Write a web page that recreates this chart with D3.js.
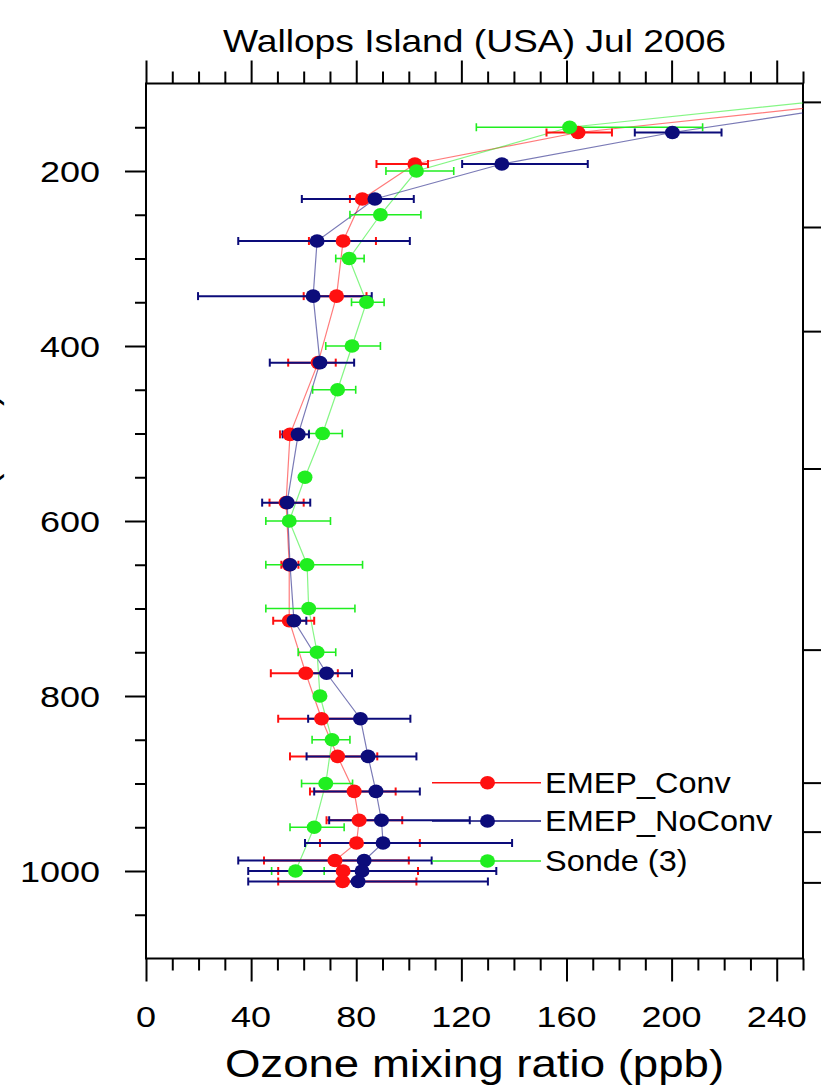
<!DOCTYPE html>
<html>
<head>
<meta charset="utf-8">
<script src="https://cdn.jsdelivr.net/npm/d3@7"></script>
<style>
  body { margin: 0; background: #fff; }
  text { font-family: "Liberation Sans", Arial, Helvetica, sans-serif; fill: #000; }
</style>
</head>
<body>
<script>
"use strict"

// sonde (observed) profile, every 50 hPa
var sondeP  = [100, 150, 200, 250, 300, 350, 400, 450, 500, 550, 600, 650, 700, 750, 800, 850, 900, 950, 1000];
var sondeO3 = [320, 161.2, 102.9, 89.2, 77.3, 83.9, 78.4, 72.9, 67.2, 60.5, 54.5, 61.3, 61.9, 65.1, 66.2, 70.8, 68.4, 64.0, 56.9];
var sondeLo = [320, 125.7, 91.3, 77.6, 72.2, 78.2, 68.4, 63.4, 62.1, 58.5, 45.6, 45.6, 45.6, 57.9, 64.5, 63.2, 59.2, 54.8, 47.8];
var sondeHi = [320, 211.8, 117.1, 104.6, 83.0, 90.6, 89.2, 79.8, 74.7, 62.5, 70.2, 82.4, 79.5, 72.2, 68.0, 77.6, 78.6, 75.4, 67.8];

// model levels (hPa)
var modelP = [100, 156, 192, 232, 280, 343, 419, 501, 579, 650, 714, 774, 826, 869, 909, 942, 968, 988, 1000, 1012];

var convO3 = [339, 164.4, 102.3, 82.3, 75.0, 72.5, 65.5, 54.8, 53.3, 54.5, 54.5, 60.8, 66.8, 72.9, 79.2, 81.1, 80.1, 71.9, 75.0, 74.8];
var convLo = [339, 152.4, 87.7, 77.6, 62.0, 60.0, 54.1, 51.0, 47.0, 51.5, 48.4, 47.5, 50.3, 54.8, 62.4, 68.7, 66.2, 44.9, 50.3, 50.3];
var convHi = [339, 177.3, 107.3, 89.0, 87.5, 83.9, 72.2, 57.5, 60.0, 58.0, 64.0, 73.0, 80.0, 88.0, 95.0, 97.5, 104.2, 100.0, 103.5, 102.9];

var noconvO3 = [325, 200.3, 135.4, 87.1, 65.1, 63.6, 66.2, 57.9, 53.7, 54.8, 56.3, 68.7, 81.6, 84.5, 87.5, 89.6, 90.2, 83.0, 82.2, 80.7];
var noconvLo = [325, 186.0, 120.3, 59.3, 35.1, 19.8, 47.1, 52.0, 44.2, 52.9, 53.5, 60.0, 61.7, 61.1, 64.0, 69.7, 60.5, 35.1, 38.9, 38.9];
var noconvHi = [325, 219.0, 168.1, 101.9, 100.4, 85.9, 79.2, 62.0, 62.5, 59.8, 61.0, 78.4, 100.6, 102.9, 104.2, 123.2, 139.3, 108.7, 133.3, 130.1];

var seriesNames = ["EMEP_Conv", "EMEP_NoConv", "Sonde (3)"];
var seriesColors = ["#ff1010", "#0c0c7a", "#20ee20"];

var xMajor = [0, 40, 80, 120, 160, 200, 240];
var yMajor = [200, 400, 600, 800, 1000];
// standard-atmosphere heights on the right axis (0, 0.5, 1, 2.5, 5, 7.5, 10, 15 km)
var rightTicks = [1013, 955, 899, 747, 540, 383, 264, 121];

var titleText = "Wallops Island (USA) Jul 2006";
var xLabel = "Ozone mixing ratio (ppb)";
var yLabel = "Pressure (hPa)";

var W = 821, H = 1092;
var stretch = 1.2;   // the source fonts are a bit wide

var svg = d3.select("body").append("svg")
    .attr("width", W)
    .attr("height", H);

var x = d3.scaleLinear().domain([0, 250]).range([146, 803]);
var y = d3.scaleLinear().domain([100, 1100]).range([83.5, 958.5]);

var x0 = x.range()[0], x1 = x.range()[1],
    y0 = y.range()[0], y1 = y.range()[1];

function wideText(g, tx, ty, str, size, anchor, sx) {
    return g.append("text")
        .attr("transform", "translate(" + tx + "," + ty + ") scale(" + (sx || stretch) + ",1)")
        .attr("font-size", size + "px")
        .attr("text-anchor", anchor)
        .text(str);
}

svg.append("clipPath").attr("id", "plotclip")
  .append("rect")
    .attr("x", x0).attr("y", y0)
    .attr("width", x1 - x0).attr("height", y1 - y0);

// ---- axes ----
var xMinor = d3.range(0, 251, 10).filter(function(v) { return v % 40 != 0; });
var yMinor = d3.range(150, 1100, 50).filter(function(v) { return v % 200 != 0; });

function styleAxis(g) {
    g.select(".domain").remove();
    g.selectAll("line").attr("stroke", "#000").attr("stroke-width", 2);
    g.selectAll("text").remove();
}

svg.append("g").attr("transform", "translate(0," + y1 + ")")
    .call(d3.axisBottom(x).tickValues(xMajor).tickSize(23)).call(styleAxis);
svg.append("g").attr("transform", "translate(0," + y1 + ")")
    .call(d3.axisBottom(x).tickValues(xMinor).tickSize(12)).call(styleAxis);
svg.append("g").attr("transform", "translate(0," + y0 + ")")
    .call(d3.axisTop(x).tickValues(xMajor).tickSize(23)).call(styleAxis);
svg.append("g").attr("transform", "translate(0," + y0 + ")")
    .call(d3.axisTop(x).tickValues(xMinor).tickSize(12)).call(styleAxis);
svg.append("g").attr("transform", "translate(" + x0 + ",0)")
    .call(d3.axisLeft(y).tickValues(yMajor).tickSize(21)).call(styleAxis);
svg.append("g").attr("transform", "translate(" + x0 + ",0)")
    .call(d3.axisLeft(y).tickValues(yMinor).tickSize(11)).call(styleAxis);
svg.append("g").attr("transform", "translate(" + x1 + ",0)")
    .call(d3.axisRight(y).tickValues(rightTicks).tickSize(24)).call(styleAxis);

svg.append("rect")
    .attr("x", x0).attr("y", y0)
    .attr("width", x1 - x0).attr("height", y1 - y0)
    .attr("fill", "none")
    .attr("stroke", "#000")
    .attr("stroke-width", 2);

// tick labels
xMajor.forEach(function(v) {
    wideText(svg, x(v), 1027, String(v), 30, "middle");
});
yMajor.forEach(function(v) {
    wideText(svg, 100, y(v) + 11, String(v), 30, "end");
});

wideText(svg, (x0 + x1) / 2, 52, titleText, 31, "middle");
wideText(svg, (x0 + x1) / 2, 1077, xLabel, 38, "middle");
svg.append("text")
    .attr("transform", "translate(-4," + ((y0 + y1) / 2) + ") rotate(-90) scale(1,1)")
    .attr("font-size", "38px")
    .attr("text-anchor", "middle")
    .text(yLabel);

// ---- data ----
function rows(p, v, lo, hi) {
    return p.map(function(d, i) { return {p: d, v: v[i], lo: lo[i], hi: hi[i]}; });
}
var series = [
    rows(modelP, convO3, convLo, convHi),
    rows(modelP, noconvO3, noconvLo, noconvHi),
    rows(sondeP, sondeO3, sondeLo, sondeHi)
];

var plot = svg.append("g").attr("clip-path", "url(#plotclip)");

var line = d3.line()
    .x(function(d) { return x(d.v); })
    .y(function(d) { return y(d.p); });

series.forEach(function(s, k) {
    plot.append("path")
        .datum(s)
        .attr("d", line)
        .attr("fill", "none")
        .attr("stroke", seriesColors[k])
        .attr("stroke-opacity", 0.55)
        .attr("stroke-width", 1.2);
});

var barOrder = [0, 2, 1];
barOrder.forEach(function(k) {
    var g = plot.append("g")
        .attr("stroke", seriesColors[k])
        .attr("stroke-width", k == 2 ? 1.6 : 2);
    var bars = g.selectAll("g").data(series[k]).enter().append("g");
    bars.append("line")
        .attr("x1", function(d) { return x(d.lo); })
        .attr("x2", function(d) { return x(d.hi); })
        .attr("y1", function(d) { return y(d.p); })
        .attr("y2", function(d) { return y(d.p); });
    bars.append("line")
        .attr("x1", function(d) { return x(d.lo); })
        .attr("x2", function(d) { return x(d.lo); })
        .attr("y1", function(d) { return y(d.p) - 4; })
        .attr("y2", function(d) { return y(d.p) + 4; });
    bars.append("line")
        .attr("x1", function(d) { return x(d.hi); })
        .attr("x2", function(d) { return x(d.hi); })
        .attr("y1", function(d) { return y(d.p) - 4; })
        .attr("y2", function(d) { return y(d.p) + 4; });
});

series.forEach(function(s, k) {
    plot.selectAll(null).data(s).enter().append("ellipse")
        .attr("cx", function(d) { return x(d.v); })
        .attr("cy", function(d) { return y(d.p); })
        .attr("rx", 7.5)
        .attr("ry", 6.8)
        .attr("fill", seriesColors[k]);
});

// ---- legend ----
var legY = [782.7, 821, 861];
seriesNames.forEach(function(name, k) {
    svg.append("line")
        .attr("x1", 432).attr("x2", 541)
        .attr("y1", legY[k]).attr("y2", legY[k])
        .attr("stroke", seriesColors[k])
        .attr("stroke-width", 1.5);
    svg.append("ellipse")
        .attr("cx", 487.5).attr("cy", legY[k])
        .attr("rx", 7.5).attr("ry", 6.8)
        .attr("fill", seriesColors[k]);
    wideText(svg, 545, legY[k] + 10, name, 29, "start", 1.12);
});
</script>
</body>
</html>
